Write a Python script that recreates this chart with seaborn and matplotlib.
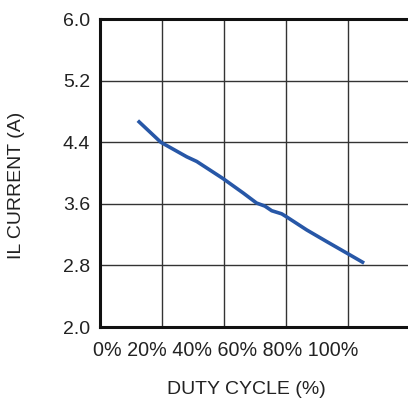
import matplotlib
matplotlib.use("Agg")
import matplotlib.pyplot as plt
import seaborn as sns
import pandas as pd

# Inductor current vs. duty cycle
duty_cycle = [12.2, 19.6, 28.0, 31.2, 39.6, 46.2, 50.5, 53.2, 55.4, 58.6,
              60.2, 66.7, 73.1, 79.6, 85.2]
il_current = [4.68, 4.40, 4.21, 4.15, 3.93, 3.74, 3.61, 3.57, 3.51, 3.47,
              3.43, 3.26, 3.11, 2.96, 2.83]

x_ticks = [0, 20, 40, 60, 80, 100]
x_tick_labels = ["0%", "20%", "40%", "60%", "80%", "100%"]
y_ticks = [2.0, 2.8, 3.6, 4.4, 5.2, 6.0]
y_tick_labels = ["2.0", "2.8", "3.6", "4.4", "5.2", "6.0"]

sns.set_style("white")
plt.rcParams["font.family"] = ["Liberation Sans", "DejaVu Sans"]

df = pd.DataFrame({"duty": duty_cycle, "current": il_current})

fig = plt.figure(figsize=(4.08, 4.0), dpi=100)
ax = fig.add_axes([100 / 408, 1 - 327 / 400, 310 / 408, 308 / 400])

sns.lineplot(data=df, x="duty", y="current", ax=ax, color="#2757a7",
             linewidth=2.6, solid_capstyle="butt", zorder=3)

ax.set_xlim(0, 100)
ax.set_ylim(2.0, 6.0)
ax.set_xticks(x_ticks)
ax.set_xticklabels([])
ax.set_yticks(y_ticks)
ax.set_yticklabels(y_tick_labels, fontsize=14, color="#222222")
ax.tick_params(axis="both", length=0)
ax.tick_params(axis="y", pad=7)

ax.grid(True, color="#333333", linewidth=1.0)
for side in ("left", "top", "bottom", "right"):
    ax.spines[side].set_visible(True)
    ax.spines[side].set_color("#111111")
    ax.spines[side].set_linewidth(2.2)

# Percent labels set as one row beneath the plot
ax.text(-0.0226, -0.075, " ".join(x_tick_labels), transform=ax.transAxes,
        ha="left", va="center", fontsize=14.2, color="#222222")

ax.set_xlabel("DUTY CYCLE (%)", fontsize=14, color="#222222", va="center")
ax.xaxis.set_label_coords(0.471, -0.2045)
ax.set_ylabel("IL CURRENT (A)", fontsize=14, color="#222222", va="center")
ax.yaxis.set_label_coords(-0.268, 0.461)

fig.savefig("out.png", dpi=100)
